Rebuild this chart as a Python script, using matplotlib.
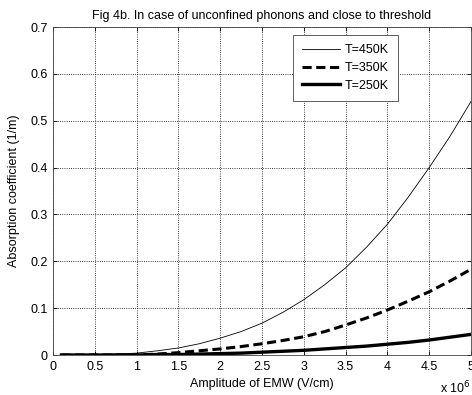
import matplotlib
matplotlib.use("Agg")
import matplotlib.pyplot as plt

x_vals = [0.1, 0.25, 0.5, 0.75, 1.0, 1.25, 1.5, 1.75, 2.0, 2.25, 2.5,
          2.75, 3.0, 3.25, 3.5, 3.75, 4.0, 4.25, 4.5, 4.75, 5.0]
t450 = [0.0, 0.0, 0.001, 0.002, 0.004, 0.009, 0.015, 0.024, 0.036, 0.050, 0.068,
        0.091, 0.118, 0.150, 0.186, 0.230, 0.279, 0.337, 0.400, 0.467, 0.541]
t350 = [0.0, 0.0, 0.0, 0.0, 0.0, 0.002, 0.005, 0.009, 0.013, 0.018, 0.024,
        0.031, 0.039, 0.050, 0.064, 0.079, 0.096, 0.115, 0.135, 0.158, 0.183]
t250 = [0.0, 0.0, 0.0, 0.0, 0.0, 0.001, 0.001, 0.002, 0.003, 0.004, 0.006,
        0.008, 0.010, 0.013, 0.016, 0.019, 0.023, 0.027, 0.032, 0.038, 0.044]
labels = ["T=450K", "T=350K", "T=250K"]
xticks = [0, 0.5, 1, 1.5, 2, 2.5, 3, 3.5, 4, 4.5, 5]
yticks = [0, 0.1, 0.2, 0.3, 0.4, 0.5, 0.6, 0.7]

plt.rcParams['font.family'] = ['Liberation Sans', 'DejaVu Sans']
fig = plt.figure(figsize=(4.72, 3.95), dpi=100)
ax = fig.add_axes([53/472, 1-355/395, 418/472, 328/395])

ax.plot(x_vals, t450, color='black', lw=0.6, label=labels[0])
ax.plot(x_vals, t350, color='black', lw=2.2, ls=(0, (3, 1.5)), label=labels[1])
ax.plot(x_vals, t250, color='black', lw=2.4, label=labels[2])

ax.set_xlim(0, 5)
ax.set_ylim(0, 0.7)
ax.set_xticks(xticks)
ax.set_xticklabels([f"{v:g}" for v in xticks])
ax.set_yticks(yticks)
ax.set_yticklabels([f"{v:g}" for v in yticks])
ax.tick_params(direction='in', labelsize=9, length=3, width=0.6, top=True, right=True,
               colors='black', pad=4)
ax.grid(True, ls=':', color='black', lw=0.6)
for s in ax.spines.values():
    s.set_linewidth(0.6)
    s.set_color('#444444')

ax.set_title("Fig 4b. In case of unconfined phonons and close to threshold", fontsize=9, pad=6)
ax.set_xlabel("Amplitude of EMW (V/cm)", fontsize=9, labelpad=4)
ax.set_ylabel("Absorption coefficient (1/m)", fontsize=9, labelpad=7)
fig.text(440/472, 1-388/395, r"x 10$^{6}$", fontsize=9, va='center', ha='left')

leg = ax.legend(loc='upper left', bbox_to_anchor=((293-53)/418, 1-(35-27)/328),
                fontsize=9, frameon=True, fancybox=False, framealpha=1,
                edgecolor='#444444', handlelength=3.0, handletextpad=0.35,
                borderpad=0.75, borderaxespad=0, labelspacing=0.45)
leg.get_frame().set_linewidth(0.6)

fig.savefig("out.png", dpi=100)
